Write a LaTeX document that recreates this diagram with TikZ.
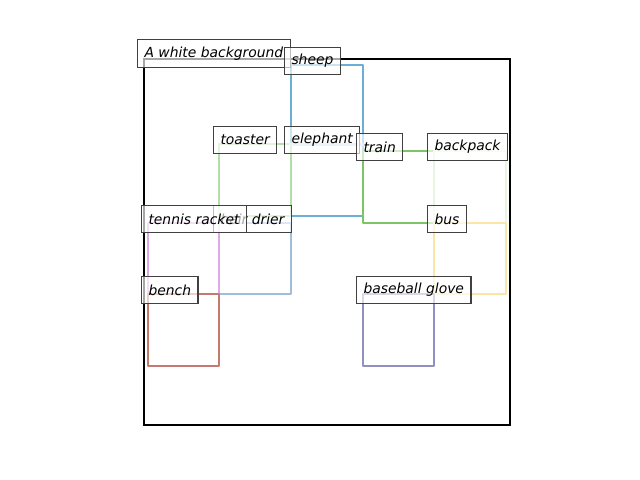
\documentclass[tikz,border=0pt]{standalone}
\usepackage{fontspec}
\setmainfont{DejaVu Sans}
\begin{document}
\begin{tikzpicture}[x=0.72pt,y=-0.72pt,
  bx/.style={line width=2pt,line join=round},
  lbl/.style={draw=black!75,fill=white,fill opacity=0.65,text opacity=1,line width=0.8pt,
    anchor=west,inner xsep=5pt,inner ysep=0pt,minimum height=19.6pt,font=\fontsize{10}{12}\selectfont\itshape}]
\useasboundingbox (0,0) rectangle (640,480);
\definecolor{csheep}{HTML}{6BAED6}
\definecolor{celeph}{HTML}{C6DBEF}
\definecolor{ctoast}{HTML}{B2DFA8}
\definecolor{ctrain}{HTML}{7DC466}
\definecolor{cback}{HTML}{E8F5E0}
\definecolor{cbus}{HTML}{FBE6A8}
\definecolor{chair}{HTML}{A0BDDA}
\definecolor{ctennis}{HTML}{DFA8E8}
\definecolor{cbench}{HTML}{C47A70}
\definecolor{cglove}{HTML}{9290C2}
% frame
\draw[line width=1.8pt] (144,59) rectangle (510,425);
% boxes
\draw[bx,csheep] (291,65) rectangle (363,216);
\draw[bx,ctoast] (219,144) rectangle (291,216);
\draw[bx,celeph] (291,144) rectangle (363,145);
\draw[bx,ctrain] (363,151) rectangle (434,223);
\draw[bx,cback] (434,151) rectangle (506,223);
\draw[bx,cbus] (434,223) rectangle (506,294);
\draw[bx,chair] (219,223) rectangle (291,294);
\draw[bx,ctennis] (148,223) rectangle (219,294);
\draw[bx,cbench] (148,294) rectangle (219,366);
\draw[bx,cglove] (363,294) rectangle (434,366);
% labels
\node[lbl] (lbg) at (137,53.5) {A white background};
\node[lbl] (lsheep) at (284,61) {sheep};
\node[lbl] (ltoast) at (213,140) {toaster};
\node[lbl] (leleph) at (284,140) {elephant};
\node[lbl] (ltrain) at (356,147) {train};
\node[lbl] (lback) at (427,147) {backpack};
\node[lbl] (lhair) at (213,219) {hair drier};
\node[lbl] (ltennis) at (141,219) {tennis racket};
\node[lbl] (lbus) at (427,219) {bus};
\node[lbl] (lbench) at (141,290) {bench};
\node[lbl] (lglove) at (356,290) {baseball glove};
\end{tikzpicture}
\end{document}
